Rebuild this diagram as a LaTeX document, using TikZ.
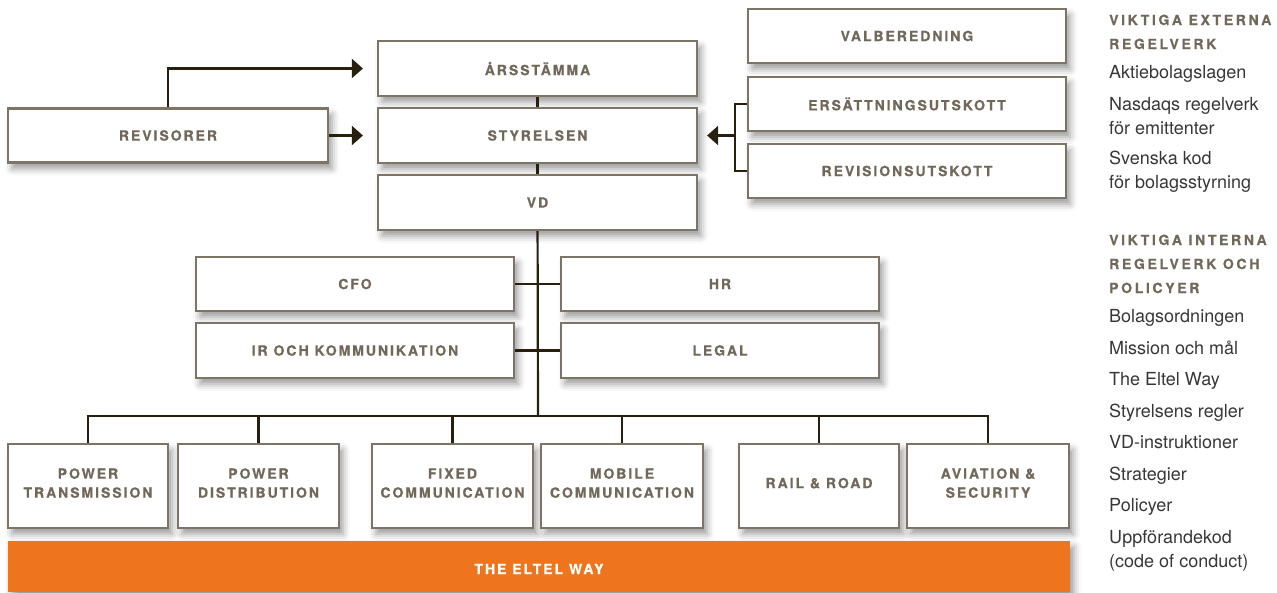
\documentclass[tikz,border=0pt]{standalone}
\usepackage{fontspec}
\usepackage{tikz}
\usetikzlibrary{arrows.meta,shadows.blur}
\setmainfont{TeX Gyre Heros}
\newfontfamily\lblfont[LetterSpace=14,BoldFeatures={FakeBold=0.6}]{TeX Gyre Heros}
\newfontfamily\headfont[LetterSpace=19,BoldFeatures={FakeBold=0.6}]{TeX Gyre Heros}
\definecolor{boxline}{RGB}{125,116,102}
\definecolor{boxtext}{RGB}{114,104,90}
\definecolor{linkc}{RGB}{40,31,15}
\definecolor{eltel}{RGB}{238,116,30}
\definecolor{listtext}{RGB}{55,55,55}

\begin{document}
\begin{tikzpicture}[x=1pt,y=-1pt,
		orgbox/.style={rectangle,draw=boxline,line width=2.2pt,fill=white,text=boxtext,
			align=center,inner sep=0pt,minimum width=319pt,minimum height=55pt,
			font=\lblfont\bfseries\fontsize{14}{19}\selectfont,
			blur shadow={shadow xshift=4pt,shadow yshift=-6pt,shadow blur radius=7pt,shadow opacity=40}},
		midbox/.style={orgbox,minimum width=318pt},
		divbox/.style={orgbox,minimum height=84pt,text depth=6pt},
		link/.style={draw=linkc,line width=2.2pt},
		linkarrow/.style={link,-{Triangle[length=11pt,width=19pt]},shorten >=14pt},
		listhead/.style={anchor=base west,inner sep=0pt,text=boxtext,font=\headfont\bfseries\fontsize{14}{24}\selectfont},
		listitem/.style={anchor=base west,inner sep=0pt,text=listtext,font=\fontsize{18}{24}\selectfont}]
		\useasboundingbox (0,0) rectangle (1277,592);

		\node[orgbox] (arsst) at (537.5,68.5) {ÅRSSTÄMMA};
		\node[orgbox] (styr) at (537.5,135.5) {STYRELSEN};
		\node[orgbox] (vd) at (537.5,202.5) {VD};
		\node[orgbox,minimum width=320pt,minimum height=54pt] (revi) at (168,135.5) {REVISORER};

		\node[orgbox,minimum width=318pt,minimum height=54pt] (valb) at (907,36) {VALBEREDNING};
		\node[orgbox,minimum width=318pt,minimum height=54pt] (ers) at (907,104) {ERSÄTTNINGSUTSKOTT};
		\node[orgbox,minimum width=318pt,minimum height=54pt] (revu) at (907,171) {REVISIONSUTSKOTT};

		\node[midbox,minimum height=54pt] (cfo) at (355,284) {CFO};
		\node[midbox,minimum height=54pt] (hr) at (720,284) {HR};
		\node[midbox] (ir) at (355,350.5) {IR OCH KOMMUNIKATION};
		\node[midbox] (legal) at (720,350.5) {LEGAL};

		\node[divbox,minimum width=160pt] (ptr) at (88,486) {POWER\\TRANSMISSION};
		\node[divbox,minimum width=161pt] (pdi) at (258.5,486) {POWER\\DISTRIBUTION};
		\node[divbox,minimum width=161pt] (fco) at (452.5,486) {FIXED\\COMMUNICATION};
		\node[divbox,minimum width=162pt] (mco) at (622,486) {MOBILE\\COMMUNICATION};
		\node[divbox,minimum width=160pt] (rar) at (819,486) {RAIL \& ROAD};
		\node[divbox,minimum width=162pt] (avs) at (988,486) {AVIATION \&\\SECURITY};

		\node[orgbox,draw=none,fill=eltel,text=white,minimum width=1062pt,minimum height=51pt,
			text height=15pt,text depth=0pt] (way) at (539,566.5) {THE ELTEL WAY};

		% spine and branches
		\coordinate (bus) at (538,416);
		\draw[link] (arsst) -- (styr);
		\draw[link] (styr) -- (vd);
		\draw[link] (vd) -- (bus);
		\draw[link] (cfo) -- (hr);
		\draw[link] (ir) -- (legal);
		\draw[link] (ptr.north) |- (bus) -| (avs.north);
		\draw[link] (pdi.north) -- (pdi.north |- bus);
		\draw[link] (fco.north) -- (fco.north |- bus);
		\draw[link] (mco.north) -- (mco.north |- bus);
		\draw[link] (rar.north) -- (rar.north |- bus);

		% arrows into the board
		\coordinate (cmt) at (735,135.5);
		\draw[linkarrow] (revi.north) |- (arsst);
		\draw[linkarrow] (revi) -- (styr);
		\draw[link] (ers.west) -| (cmt) |- (revu.west);
		\draw[linkarrow,shorten >=9pt] (cmt) -- (styr);

		% rule lists
		\node[listhead] (exth1) at (1109,25) {VIKTIGA EXTERNA};
		\node[listhead] (exth2) at (1109,49) {REGELVERK};
		\node[listitem] (abl) at (1109,78) {Aktiebolagslagen};
		\node[listitem] (nasd1) at (1109,110) {Nasdaqs regelverk};
		\node[listitem] (nasd2) at (1109,134) {för emittenter};
		\node[listitem] (kod1) at (1109,164) {Svenska kod};
		\node[listitem] (kod2) at (1109,188) {för bolagsstyrning};

		\node[listhead] (inth1) at (1109,245) {VIKTIGA INTERNA};
		\node[listhead] (inth2) at (1109,269) {REGELVERK OCH};
		\node[listhead] (inth3) at (1109,293) {POLICYER};
		\node[listitem] (bord) at (1109,322) {Bolagsordningen};
		\node[listitem] (miss) at (1109,354) {Mission och mål};
		\node[listitem] (eway) at (1109,385) {The Eltel Way};
		\node[listitem] (sreg) at (1109,417) {Styrelsens regler};
		\node[listitem] (vdin) at (1109,448) {VD-instruktioner};
		\node[listitem] (strat) at (1109,480) {Strategier};
		\node[listitem] (pol) at (1109,511) {Policyer};
		\node[listitem] (ufk1) at (1109,543) {Uppförandekod};
		\node[listitem] (ufk2) at (1109,567) {(code of conduct)};
\end{tikzpicture}
\end{document}
